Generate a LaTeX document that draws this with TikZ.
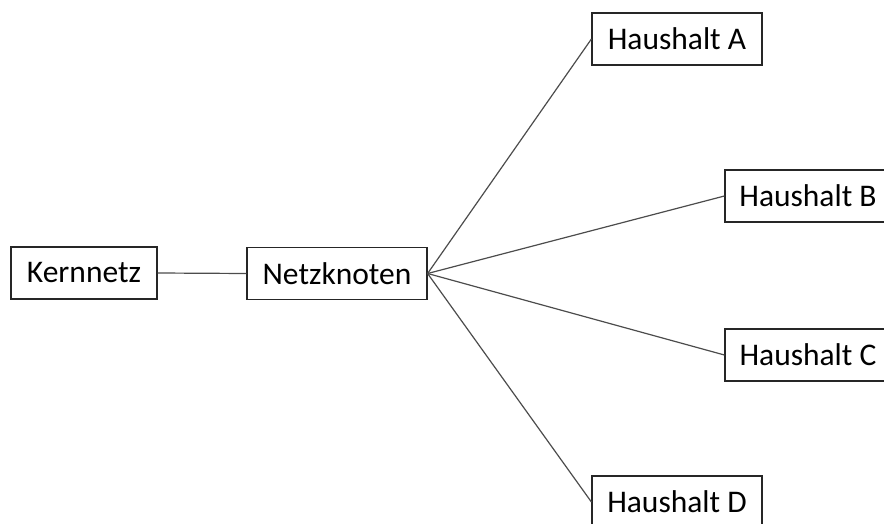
\documentclass[tikz,border=0pt]{standalone}
\usepackage{fontspec}
\setmainfont{Carlito}
\begin{document}
\begin{tikzpicture}[x=1pt,y=-1pt,
  box/.style={draw=black!85,line width=1.2pt,fill=white,minimum height=52pt,inner sep=0pt,
    font=\fontsize{31.5}{36}\selectfont},
  link/.style={draw=black!70,line width=1.2pt}]
\useasboundingbox (0,0) rectangle (884,524);
\clip (0,0) rectangle (884,524);
\node[box,minimum width=146pt] (kern) at (84,273) {Kernnetz};
\node[box,minimum width=180pt] (netz) at (337,273.5) {Netzknoten};
\node[box,minimum width=170pt] (ha) at (677,39) {Haushalt A};
\node[box,minimum width=166pt] (hb) at (808,196) {Haushalt B};
\node[box,minimum width=166pt] (hc) at (808,355) {Haushalt C};
\node[box,minimum width=170pt] (hd) at (677,502) {Haushalt D};
\draw[link] (kern.east) -- (netz.west);
\draw[link] (netz.east) -- (ha.west);
\draw[link] (netz.east) -- (hb.west);
\draw[link] (netz.east) -- (hc.west);
\draw[link] (netz.east) -- (hd.west);
\end{tikzpicture}
\end{document}
